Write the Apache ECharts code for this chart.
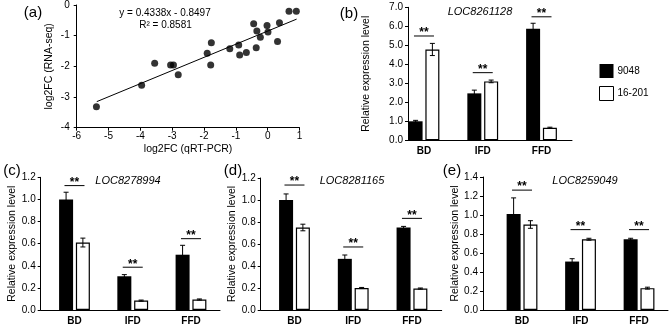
<!DOCTYPE html>
<html>
<head>
<meta charset="utf-8">
<script src="https://cdn.jsdelivr.net/npm/echarts@6/dist/echarts.min.js"></script>
<style>
  html, body { margin: 0; padding: 0; background: #fff; }
  #main { width: 669px; height: 326px; }
</style>
</head>
<body>
<div id="main"></div>
<script>
// ---- data ----
var categories = ['BD', 'IFD', 'FFD'];
var catPos = [1, 2, 3];

// (a) log2FC qRT-PCR vs RNA-seq
var scatterPoints = [
  [-5.38, -3.32], [-3.96, -2.62], [-3.55, -1.90], [-3.05, -1.96], [-2.96, -1.96],
  [-2.81, -2.27], [-1.90, -1.57], [-1.77, -1.23], [-1.79, -1.96], [-1.19, -1.43],
  [-0.91, -1.30], [-0.88, -1.63], [-0.67, -1.55], [-0.44, -0.61], [-0.36, -1.39],
  [-0.34, -0.85], [-0.23, -1.05], [-0.02, -0.67], [0.01, -0.88], [0.31, -1.19],
  [0.37, -0.58], [0.67, -0.20], [0.90, -0.20]
];
var trendEnds = [[-5.37, -3.15], [0.91, -0.46]];
var xTicksA = [-6, 1];
var yTicksA = [-4, 0];

// (b) LOC8261128
var b9048 = [1.0, 2.47, 5.87];
var b9048Err = [0.05, 0.17, 0.29];
var b16201 = [4.78, 3.10, 0.66];
var b16201Err = [0.32, 0.07, 0.03];
var bSig = [5.49, 3.56, 6.5];

// (c) LOC8278994
var c9048 = [1.0, 0.305, 0.50];
var c9048Err = [0.065, 0.015, 0.085];
var c16201 = [0.61, 0.085, 0.095];
var c16201Err = [0.04, 0.005, 0.005];
var cSig = [1.125, 0.387, 0.645];

// (d) LOC8281165
var d9048 = [1.0, 0.465, 0.75];
var d9048Err = [0.055, 0.035, 0.01];
var d16201 = [0.75, 0.20, 0.195];
var d16201Err = [0.03, 0.005, 0.005];
var dSig = [1.136, 0.573, 0.833];

// (e) LOC8259049
var e9048 = [1.01, 0.51, 0.745];
var e9048Err = [0.17, 0.03, 0.01];
var e16201 = [0.90, 0.745, 0.23];
var e16201Err = [0.04, 0.01, 0.01];
var eSig = [1.262, 0.846, 0.846];

// ---- layout ----
var FONT = 'Liberation Sans';
var BAR_W = 14;
var GAP = 2.8;
var CAP = 2.5;

var panels = [
  { grid: { left: 408, top: 7.3, width: 164, height: 133 }, xmin: 0.728, xmax: 3.519, ymax: 7, yint: 1,
    gene: 'LOC8261128', black: b9048, blackErr: b9048Err, white: b16201, whiteErr: b16201Err, sig: bSig, nameGap: 36 },
  { grid: { left: 40.7, top: 177.3, width: 179.3, height: 133.4 }, xmin: 0.42, xmax: 3.498, ymax: 1.2, yint: 0.2,
    gene: 'LOC8278994', black: c9048, blackErr: c9048Err, white: c16201, whiteErr: c16201Err, sig: cSig, nameGap: 21 },
  { grid: { left: 260.7, top: 178, width: 181, height: 132 }, xmin: 0.425, xmax: 3.506, ymax: 1.2, yint: 0.2,
    gene: 'LOC8281165', black: d9048, blackErr: d9048Err, white: d16201, whiteErr: d16201Err, sig: dSig, nameGap: 20 },
  { grid: { left: 483, top: 177, width: 185, height: 133.5 }, xmin: 0.333, xmax: 3.495, ymax: 1.4, yint: 0.2,
    gene: 'LOC8259049', black: e9048, blackErr: e9048Err, white: e16201, whiteErr: e16201Err, sig: eSig, nameGap: 16 }
];

function errRender(side) {
  return function (params, api) {
    var x = api.value(0), m = api.value(1), e = api.value(2);
    var top = api.coord([x, m + e]);
    var bot = api.coord([x, m - e]);
    var cx = top[0] + side * (BAR_W + GAP) / 2;
    var st = { stroke: '#000', lineWidth: 1 };
    return {
      type: 'group',
      children: [
        { type: 'line', shape: { x1: cx, y1: top[1], x2: cx, y2: bot[1] }, style: st },
        { type: 'line', shape: { x1: cx - CAP, y1: top[1], x2: cx + CAP, y2: top[1] }, style: st },
        { type: 'line', shape: { x1: cx - CAP, y1: bot[1], x2: cx + CAP, y2: bot[1] }, style: st }
      ]
    };
  };
}

function sigRender(params, api) {
  var p = api.coord([api.value(0), api.value(1)]);
  return {
    type: 'group',
    children: [
      { type: 'line', shape: { x1: p[0] - 10, y1: p[1], x2: p[0] + 10, y2: p[1] },
        style: { stroke: '#000', lineWidth: 1 } },
      { type: 'text', x: p[0], y: p[1] + 3,
        style: { text: '**', fill: '#000', font: 'bold 12px "' + FONT + '"', align: 'center', verticalAlign: 'bottom' } }
    ]
  };
}

function pairs(vals, errs) {
  return vals.map(function (v, i) { return errs ? [catPos[i], v, errs[i]] : [catPos[i], v]; });
}

var grids = [{ left: 76.7, top: 5, width: 222.8, height: 122.7 }];
var xAxes = [{
  gridIndex: 0, type: 'value', min: xTicksA[0], max: xTicksA[1], interval: 1,
  name: 'log2FC (qRT-PCR)', nameLocation: 'middle', nameGap: 16,
  nameTextStyle: { fontFamily: FONT, fontSize: 10.5, color: '#000' },
  axisLine: { onZero: false, lineStyle: { color: '#000', width: 1 } },
  axisTick: { length: 3, lineStyle: { color: '#000' } },
  axisLabel: { fontFamily: FONT, fontSize: 10, color: '#000', margin: 4 },
  splitLine: { show: false }
}];
var yAxes = [{
  gridIndex: 0, type: 'value', min: yTicksA[0], max: yTicksA[1], interval: 1,
  name: 'log2FC (RNA-seq)', nameLocation: 'middle', nameGap: 22,
  nameTextStyle: { fontFamily: FONT, fontSize: 10.5, color: '#000' },
  axisLine: { onZero: false, lineStyle: { color: '#000', width: 1 } },
  axisTick: { length: 3, lineStyle: { color: '#000' } },
  axisLabel: { fontFamily: FONT, fontSize: 10, color: '#000', margin: 7 },
  splitLine: { show: false }
}];
var series = [
  { type: 'scatter', xAxisIndex: 0, yAxisIndex: 0, data: scatterPoints, symbolSize: 7,
    itemStyle: { color: '#000' }, silent: true },
  { type: 'line', xAxisIndex: 0, yAxisIndex: 0, data: trendEnds, showSymbol: false,
    lineStyle: { color: '#000', width: 1 }, silent: true }
];

panels.forEach(function (p, k) {
  var gi = k + 1;
  grids.push(p.grid);
  xAxes.push({
    gridIndex: gi, type: 'value', min: p.xmin, max: p.xmax,
    axisLine: { onZero: false, lineStyle: { color: '#000', width: 1 } },
    axisTick: { show: false },
    axisLabel: {
      customValues: catPos, fontFamily: FONT, fontSize: 10, fontWeight: 'bold', color: '#000', margin: 6,
      formatter: function (v) { return categories[Math.round(v) - 1]; }
    },
    splitLine: { show: false }
  });
  yAxes.push({
    gridIndex: gi, type: 'value', min: 0, max: p.ymax, interval: p.yint,
    name: 'Relative expression level', nameLocation: 'middle', nameGap: p.nameGap,
    nameTextStyle: { fontFamily: FONT, fontSize: 10.5, color: '#000' },
    axisLine: { onZero: false, lineStyle: { color: '#000', width: 1 } },
    axisTick: { length: 3, lineStyle: { color: '#000' } },
    axisLabel: { fontFamily: FONT, fontSize: 10, color: '#000', margin: 5,
      formatter: function (v) { return v.toFixed(1); } },
    splitLine: { show: false }
  });
  series.push(
    { type: 'bar', name: '9048', xAxisIndex: gi, yAxisIndex: gi, data: pairs(p.black),
      barWidth: BAR_W, barGap: '20%', itemStyle: { color: '#000' }, silent: true },
    { type: 'bar', name: '16-201', xAxisIndex: gi, yAxisIndex: gi, data: pairs(p.white),
      barWidth: BAR_W, barGap: '20%', itemStyle: { color: '#fff', borderColor: '#000', borderWidth: 1.2 }, silent: true },
    { type: 'custom', xAxisIndex: gi, yAxisIndex: gi, data: pairs(p.black, p.blackErr),
      renderItem: errRender(-1), z: 5, silent: true },
    { type: 'custom', xAxisIndex: gi, yAxisIndex: gi, data: pairs(p.white, p.whiteErr),
      renderItem: errRender(1), z: 5, silent: true },
    { type: 'custom', xAxisIndex: gi, yAxisIndex: gi, data: pairs(p.sig),
      renderItem: sigRender, z: 5, silent: true }
  );
});

function txt(x, y, s, size, extra) {
  var st = { text: s, fill: '#000', font: (extra || '') + ' ' + size + 'px "' + FONT + '"',
    align: 'center', verticalAlign: 'middle' };
  return { type: 'text', x: x, y: y, style: st, silent: true };
}

var graphics = [
  txt(33, 13, '(a)', 15),
  txt(349, 14, '(b)', 15),
  txt(12, 171, '(c)', 15),
  txt(233, 171, '(d)', 15),
  txt(452, 171, '(e)', 15),
  txt(165, 13, 'y = 0.4338x - 0.8497', 10),
  txt(165.5, 25, 'R\u00b2 = 0.8581', 10),
  txt(480, 12, panels[0].gene, 11, 'italic'),
  txt(128, 181, panels[1].gene, 11, 'italic'),
  txt(352, 181, panels[2].gene, 11, 'italic'),
  txt(585, 181, panels[3].gene, 11, 'italic')
];

var chart = echarts.init(document.getElementById('main'), null, { renderer: 'canvas' });
chart.setOption({
  animation: false,
  backgroundColor: '#fff',
  textStyle: { fontFamily: FONT },
  grid: grids,
  xAxis: xAxes,
  yAxis: yAxes,
  legend: {
    left: 594, top: 59, orient: 'vertical', icon: 'rect',
    itemWidth: 14, itemHeight: 14, itemGap: 8,
    textStyle: { fontFamily: FONT, fontSize: 10, color: '#000', padding: [0, 0, 0, -1] },
    selectedMode: false,
    data: [
      { name: '9048', itemStyle: { color: '#000' } },
      { name: '16-201', itemStyle: { color: '#fff', borderColor: '#000', borderWidth: 1 } }
    ]
  },
  graphic: graphics,
  series: series
});
</script>
</body>
</html>
